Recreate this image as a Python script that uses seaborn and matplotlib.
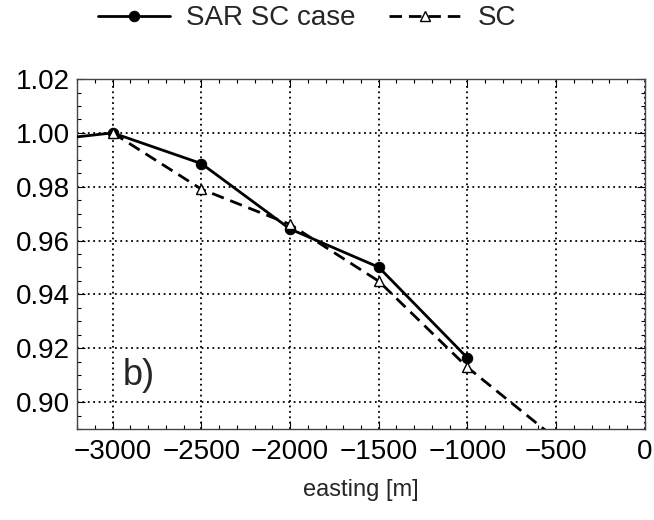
import matplotlib
matplotlib.use("Agg")
import matplotlib.pyplot as plt
import seaborn as sns
import pandas as pd
from matplotlib.ticker import MultipleLocator

sar_x = [-3500, -3000, -2500, -2000, -1500, -1000]
sar_y = [0.9963, 1.000, 0.9886, 0.9643, 0.9501, 0.9164]
sc_x = [-3000, -2500, -2000, -1500, -1000, -500]
sc_y = [1.000, 0.9791, 0.966, 0.9449, 0.9129, 0.8863]

sns.set_theme(style="ticks")
plt.rcParams['font.family'] = ['Liberation Sans', 'DejaVu Sans']

fig, ax = plt.subplots(figsize=(6.54, 5.2), dpi=100)
fig.subplots_adjust(left=0.118, right=0.986, top=0.848, bottom=0.175)

df_sar = pd.DataFrame({"x": sar_x, "y": sar_y})
df_sc = pd.DataFrame({"x": sc_x, "y": sc_y})

sns.lineplot(data=df_sar, x="x", y="y", ax=ax, color="black", lw=2.0,
             marker="o", markersize=7.5, markeredgecolor="black",
             markerfacecolor="black", label="SAR SC case", zorder=3)
sns.lineplot(data=df_sc, x="x", y="y", ax=ax, color="black", lw=2.0,
             linestyle=(0, (4.5, 2.5)), marker="^", markersize=7.5,
             markerfacecolor="white", markeredgecolor="black",
             markeredgewidth=1.0, label="SC", zorder=4)

ax.set_xlim(-3200, 0)
ax.set_ylim(0.89, 1.02)
ax.xaxis.set_major_locator(MultipleLocator(500))
ax.xaxis.set_minor_locator(MultipleLocator(100))
ax.yaxis.set_major_locator(MultipleLocator(0.02))
ax.yaxis.set_minor_locator(MultipleLocator(0.005))
ax.yaxis.set_major_formatter(matplotlib.ticker.FormatStrFormatter('%.2f'))
ax.xaxis.set_major_formatter(matplotlib.ticker.FuncFormatter(
    lambda v, p: ("\u2212%d" % abs(v)) if v < 0 else "%d" % v))

ax.tick_params(which='both', direction='in', top=True, right=True,
               colors='black', labelsize=20, width=0.8)
ax.tick_params(which='major', length=6)
ax.tick_params(axis='y', which='major', pad=5)
ax.tick_params(axis='x', which='major', pad=7)
ax.tick_params(which='minor', length=3)
ax.grid(True, which='major', linestyle=(0, (1, 2)), color='black', lw=1.3)
for s in ax.spines.values():
    s.set_color('#444444')
    s.set_linewidth(1.0)

ax.set_xlabel("easting [m]", fontsize=17, labelpad=10)
ax.set_ylabel("")
ax.text(-2850, 0.910, "b)", fontsize=26, ha='center', va='center')

leg = ax.legend(loc='lower center', bbox_to_anchor=(0.405, 1.065), ncol=2,
                frameon=False, fontsize=20, handlelength=2.6,
                columnspacing=1.2, handletextpad=0.6)

fig.savefig("out.png", dpi=100)
